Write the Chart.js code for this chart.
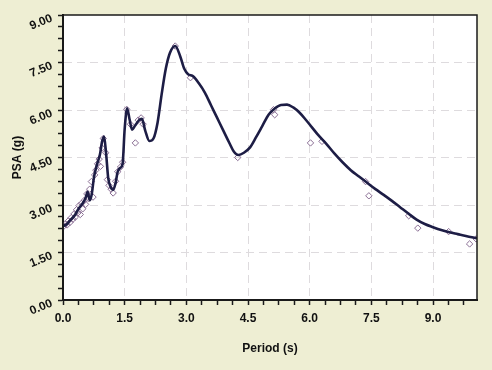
<!DOCTYPE html>
<html>
<head>
<meta charset="utf-8">
<script src="https://cdn.jsdelivr.net/npm/chart.js@4"></script>
<style>
  html, body { margin: 0; padding: 0; background: #eeeed3; }
  #wrap { width: 492px; height: 370px; }
</style>
</head>
<body>
<div id="wrap"><canvas id="graficoPSA" width="492" height="370"></canvas></div>
<script>
// curva espectral (linha continua)
var curvePeriod = [0.00, 0.05, 0.10, 0.15, 0.20, 0.25, 0.30, 0.35, 0.40, 0.45, 0.50, 0.55, 0.60, 0.65, 0.70,
    0.75, 0.80, 0.85, 0.90, 0.95, 1.00, 1.05, 1.10, 1.15, 1.22, 1.28, 1.33, 1.40, 1.45, 1.50, 1.56, 1.62,
    1.68, 1.75, 1.85, 1.92, 2.00, 2.10, 2.20, 2.30, 2.40, 2.50, 2.60, 2.73, 2.85, 2.95, 3.05, 3.15, 3.30,
    3.45, 3.60, 3.75, 3.90, 4.05, 4.15, 4.27, 4.40, 4.55, 4.70, 4.85, 5.00, 5.15, 5.30, 5.45, 5.60, 5.75,
    5.90, 6.05, 6.20, 6.40, 6.60, 6.80, 7.00, 7.20, 7.40, 7.60, 7.80, 8.00, 8.20, 8.40, 8.60, 8.80, 9.00,
    9.20, 9.40, 9.60, 9.80, 10.07];
var curvePSA = [2.33, 2.36, 2.40, 2.48, 2.55, 2.62, 2.70, 2.82, 2.92, 3.00, 3.10, 3.22, 3.42, 3.15, 3.35,
    3.85, 4.15, 4.38, 4.60, 5.00, 5.16, 4.60, 3.85, 3.60, 3.48, 3.70, 4.05, 4.18, 4.30, 5.40, 6.05, 5.70,
    5.38, 5.50, 5.68, 5.72, 5.35, 5.02, 5.10, 5.60, 6.50, 7.30, 7.80, 8.02, 7.70, 7.30, 7.12, 7.08, 6.85,
    6.55, 6.15, 5.75, 5.35, 4.95, 4.70, 4.58, 4.65, 4.82, 5.15, 5.50, 5.85, 6.05, 6.16, 6.17, 6.08, 5.92,
    5.70, 5.46, 5.22, 4.94, 4.63, 4.35, 4.10, 3.90, 3.70, 3.50, 3.32, 3.13, 2.93, 2.73, 2.54, 2.40, 2.30,
    2.21, 2.14, 2.08, 2.02, 1.95];

// registros (losangos)
var obsPeriod = [0.02, 0.06, 0.10, 0.13, 0.17, 0.20, 0.24, 0.27, 0.30, 0.33, 0.36, 0.39, 0.42, 0.45, 0.48,
    0.52, 0.55, 0.58, 0.62, 0.65, 0.69, 0.73, 0.77, 0.80, 0.84, 0.88, 0.91, 0.95, 0.98, 1.04, 1.08, 1.12,
    1.17, 1.22, 1.28, 1.33, 1.40, 1.45, 1.55, 1.64, 1.76, 1.83, 1.90, 1.95, 2.73, 3.10, 4.25, 5.12, 5.15,
    6.02, 6.30, 7.36, 7.44, 8.41, 8.63, 9.38, 9.89, 10.05];
var obsPSA = [2.33, 2.40, 2.37, 2.50, 2.45, 2.60, 2.55, 2.72, 2.62, 2.85, 2.75, 2.98, 2.70, 3.05, 2.88,
    3.15, 3.02, 3.35, 3.20, 3.50, 3.74, 3.25, 3.95, 4.10, 4.30, 4.45, 4.22, 4.80, 5.10, 4.65, 3.80, 3.62,
    3.50, 3.38, 3.75, 4.05, 4.20, 4.35, 6.02, 5.55, 4.96, 5.68, 5.75, 5.55, 8.02, 7.02, 4.50, 6.01, 5.85,
    4.96, 5.01, 3.74, 3.29, 2.66, 2.27, 2.16, 1.77, 1.93];

var xMajor = [0.0, 1.5, 3.0, 4.5, 6.0, 7.5, 9.0];
var yMajor = [0.00, 1.50, 3.00, 4.50, 6.00, 7.50, 9.00];

var passoMenor = 0.375;
var fonte = { family: "'Liberation Sans', Arial, sans-serif", size: 12, weight: 'bold' };

function ehMaior(v, lista){
    return lista.some(function(m){ return Math.abs(m - v) < 1e-6; });
}

function marcas(min, max){
    var t = [];
    for (var v = min; v <= max + 1e-9; v += passoMenor){
        t.push({ value: Math.round(v * 1000) / 1000 });
    }
    return t;
}

// fundo branco da area do grafico + moldura
var moldura = {
    id: 'moldura',
    beforeDraw: function(chart){
        var a = chart.chartArea, c = chart.ctx;
        c.save();
        c.fillStyle = '#ffffff';
        c.fillRect(a.left, a.top, a.right - a.left, a.bottom - a.top);
        c.restore();
    },
    afterDraw: function(chart){
        var a = chart.chartArea, c = chart.ctx;
        c.save();
        c.strokeStyle = '#1a1a1a';
        c.lineWidth = 1.5;
        c.strokeRect(a.left, a.top, a.right - a.left, a.bottom - a.top);
        c.restore();
    }
};

var ctx = document.getElementById('graficoPSA');

new Chart(ctx, {
    type: 'scatter',
    data: {
        datasets: [
        {
            label: 'PSA',
            data: curvePeriod.map(function(x, i){ return { x: x, y: curvePSA[i] }; }),
            showLine: true,
            borderColor: '#1d1d45',
            borderWidth: 2.6,
            pointRadius: 0,
            cubicInterpolationMode: 'monotone'
        },
        {
            label: 'Registros',
            data: obsPeriod.map(function(x, i){ return { x: x, y: obsPSA[i] }; }),
            pointStyle: 'rectRot',
            pointRadius: 3.2,
            pointBorderWidth: 1,
            pointBorderColor: '#8b6f95',
            pointBackgroundColor: 'rgba(255,255,255,0)',
            showLine: false
        }
    ]
    },
    options: {
        responsive: false,
        animation: false,
        devicePixelRatio: 1,
        layout: { padding: { left: 0, right: 15, top: 15, bottom: 0 } },
        plugins: { legend: { display: false }, tooltip: { enabled: false } },
        scales: {
            x: {
                type: 'linear',
                min: 0,
                max: 10.07,
                afterBuildTicks: function(s){ s.ticks = marcas(0, 10.07); },
                afterFit: function(s){ s.height = 70; },
                ticks: {
                    autoSkip: false,
                    maxRotation: 0,
                    padding: 6,
                    color: '#111',
                    font: fonte,
                    callback: function(v){ return ehMaior(v, xMajor) ? v.toFixed(1) : ''; }
                },
                grid: {
                    color: function(c){
                        var v = c.tick ? c.tick.value : 0;
                        return (ehMaior(v, xMajor) && v > 0) ? '#dedbde' : 'rgba(0,0,0,0)';
                    },
                    lineWidth: 1,
                    tickLength: 5,
                    tickWidth: 1.5,
                    tickColor: '#1a1a1a',
                    tickBorderDash: []
                },
                border: { display: true, color: '#1a1a1a', width: 2, dash: [8, 5] },
                title: { display: true, text: 'Period (s)', color: '#111', font: fonte, padding: { top: 0, bottom: 14 } }
            },
            y: {
                type: 'linear',
                min: 0,
                max: 9,
                afterBuildTicks: function(s){ s.ticks = marcas(0, 9); },
                afterFit: function(s){ s.width = 63; },
                ticks: {
                    autoSkip: false,
                    minRotation: 22,
                    maxRotation: 22,
                    padding: 6,
                    labelOffset: 3,
                    color: '#111',
                    font: fonte,
                    callback: function(v){ return ehMaior(v, yMajor) ? v.toFixed(2) : ''; }
                },
                grid: {
                    color: function(c){
                        var v = c.tick ? c.tick.value : 0;
                        return (ehMaior(v, yMajor) && v > 0 && v < 9) ? '#dedbde' : 'rgba(0,0,0,0)';
                    },
                    lineWidth: 1,
                    tickLength: 5,
                    tickWidth: 1.5,
                    tickColor: '#1a1a1a',
                    tickBorderDash: []
                },
                border: { display: true, color: '#1a1a1a', width: 2, dash: [8, 5] },
                title: { display: true, text: 'PSA (g)', color: '#111', font: fonte, padding: { top: 10, bottom: 0 } }
            }
        }
    },
    plugins: [moldura]
});
</script>
</body>
</html>
